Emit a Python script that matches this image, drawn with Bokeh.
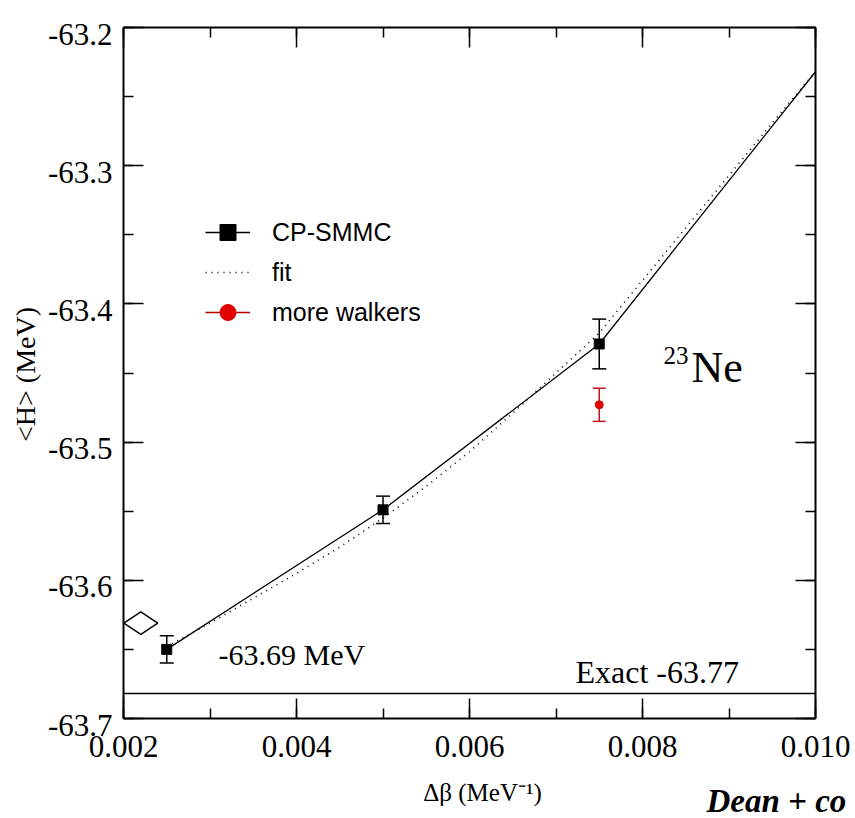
import numpy as np
from bokeh.plotting import figure
from bokeh.models import (Range1d, LinearAxis, SingleIntervalTicker,
                          Whisker, ColumnDataSource, Label, Legend, LegendItem, TeeHead)
from bokeh.embed import file_html
from bokeh.resources import INLINE

# ---- data ----
x_lim = [0.002, 0.010]
y_lim = [-63.7, -63.2]

x_tick_values = [0.002, 0.004, 0.006, 0.008, 0.010]
x_tick_labels = ["0.002", "0.004", "0.006", "0.008", "0.010"]
y_tick_values = [-63.7, -63.6, -63.5, -63.4, -63.3, -63.2]
y_tick_labels = ["-63.7", "-63.6", "-63.5", "-63.4", "-63.3", "-63.2"]

cp_dbeta = [0.0025, 0.005, 0.0075]
cp_energy = [-63.650, -63.549, -63.429]
cp_err = [0.0099, 0.0099, 0.018]

cp_line_dbeta = [0.0025, 0.005, 0.0075, 0.010]
cp_line_energy = [-63.650, -63.549, -63.429, -63.232]

fit_dbeta = [0.0025, 0.003, 0.0035, 0.004, 0.0045, 0.005, 0.0055, 0.006, 0.0065,
             0.007, 0.0075, 0.008, 0.0085, 0.009, 0.0095, 0.010]
fit_energy = [-63.648, -63.631, -63.613, -63.595, -63.576, -63.555, -63.532, -63.507,
              -63.479, -63.450, -63.421, -63.383, -63.345, -63.307, -63.269, -63.232]

walk_dbeta = [0.0075]
walk_energy = [-63.473]
walk_err = [0.012]

extrap_dbeta = [0.0022]
extrap_energy = [-63.631]

exact_dbeta = [0.002, 0.010]
exact_energy = [-63.682, -63.682]

x_ticks_interval = 0.002
y_ticks_interval = 0.1

SERIF = "Liberation Serif"
SANS = "Liberation Sans"
DESC = 0.216  # descent of Liberation Serif (fraction of font size)

# pixel layout of the axes box; the plotting frame covers the whole canvas so that
# tick labels, axis titles and the caption are never clipped
BOX_L, BOX_R, BOX_T, BOX_B = 123, 815, 27, 718
W, H = 855, 818
px_x = (x_lim[1] - x_lim[0]) / (BOX_R - BOX_L)
px_y = (y_lim[1] - y_lim[0]) / (BOX_B - BOX_T)


def data_x(px):
    return x_lim[0] + (px - BOX_L) * px_x


def data_y(py):
    return y_lim[1] - (py - BOX_T) * px_y


p = figure(width=W, height=H,
           x_range=Range1d(data_x(0), data_x(W)), y_range=Range1d(data_y(H), data_y(0)),
           output_backend="svg", toolbar_location=None,
           min_border_left=0, min_border_right=0, min_border_top=0, min_border_bottom=0,
           x_axis_location=None, y_axis_location=None)
p.grid.visible = False
p.outline_line_color = None
p.background_fill_color = "white"
p.border_fill_color = "white"


def make_axis(loc, bounds, interval):
    ax = LinearAxis(fixed_location=loc, bounds=bounds,
                    ticker=SingleIntervalTicker(interval=interval, num_minor_ticks=2))
    ax.axis_line_width = 2
    ax.axis_line_color = "black"
    ax.major_tick_in = 20
    ax.major_tick_out = 0
    ax.minor_tick_in = 10
    ax.minor_tick_out = 0
    ax.major_tick_line_width = 1.5
    ax.minor_tick_line_width = 1.5
    ax.major_tick_line_color = "black"
    ax.minor_tick_line_color = "black"
    ax.major_label_text_font_size = "0px"
    ax.major_label_standoff = 0
    return ax


p.add_layout(make_axis(y_lim[0], (x_lim[0], x_lim[1]), x_ticks_interval), "below")
p.add_layout(make_axis(y_lim[1], (x_lim[0], x_lim[1]), x_ticks_interval), "above")
p.add_layout(make_axis(x_lim[0], (y_lim[0], y_lim[1]), y_ticks_interval), "left")
p.add_layout(make_axis(x_lim[1], (y_lim[0], y_lim[1]), y_ticks_interval), "right")

TICK_SIZE = 31
# x tick labels (baseline 32 px below the axis)
for v, t in zip(x_tick_values, x_tick_labels):
    p.add_layout(Label(x=v, y=data_y(750 + DESC * TICK_SIZE), text=t, text_font=SERIF,
                       text_font_size=f"{TICK_SIZE}px", text_color="black",
                       text_align="center", text_baseline="bottom"))
# y tick labels (digits centred on the tick)
for v, t in zip(y_tick_values, y_tick_labels):
    p.add_layout(Label(x=data_x(112), y=v - (0.338 + DESC) * TICK_SIZE * px_y, text=t,
                       text_font=SERIF, text_font_size=f"{TICK_SIZE}px", text_color="black",
                       text_align="right", text_baseline="bottom"))


def add_text(px, base_py, text, size, style="normal", align="left"):
    p.add_layout(Label(x=data_x(px), y=data_y(base_py + DESC * size), text=text,
                       text_font=SERIF, text_font_size=f"{size}px", text_font_style=style,
                       text_color="black", text_align=align, text_baseline="bottom"))


# axis titles
add_text(482, 800, "Δβ (MeV⁻¹)", 25, align="center")
p.add_layout(Label(x=data_x(25), y=data_y(374), text="<H> (MeV)", text_font=SERIF,
                   text_font_size="28px", text_color="black", text_align="center",
                   text_baseline="middle", angle=np.pi / 2))

# exact line
p.line(exact_dbeta, exact_energy, line_color="black", line_width=1.5)

# fit (dotted)
fit_r = p.line(fit_dbeta, fit_energy, line_color="black", line_width=1.6, line_dash="1 5")

# CP-SMMC line and points
cp_line = p.line(cp_line_dbeta, cp_line_energy, line_color="black", line_width=1.3)
cp_src = ColumnDataSource(dict(x=cp_dbeta, y=cp_energy,
                               lo=[e - d for e, d in zip(cp_energy, cp_err)],
                               hi=[e + d for e, d in zip(cp_energy, cp_err)]))
p.add_layout(Whisker(source=cp_src, base="x", lower="lo", upper="hi", dimension="height",
                     line_color="black", line_width=1.5,
                     lower_head=TeeHead(size=14, line_color="black", line_width=1.5),
                     upper_head=TeeHead(size=14, line_color="black", line_width=1.5)))
cp_pts = p.scatter("x", "y", source=cp_src, marker="square", size=10,
                   fill_color="black", line_color="black")

# more walkers
w_src = ColumnDataSource(dict(x=walk_dbeta, y=walk_energy,
                              lo=[e - d for e, d in zip(walk_energy, walk_err)],
                              hi=[e + d for e, d in zip(walk_energy, walk_err)]))
p.add_layout(Whisker(source=w_src, base="x", lower="lo", upper="hi", dimension="height",
                     line_color="#c8141e", line_width=1.5,
                     lower_head=TeeHead(size=13, line_color="#c8141e", line_width=1.5),
                     upper_head=TeeHead(size=13, line_color="#c8141e", line_width=1.5)))
w_line = p.line("x", "y", source=w_src, line_color="#b40000", line_width=1.5)
w_pts = p.scatter("x", "y", source=w_src, marker="circle", size=8,
                  fill_color="#e00000", line_color="#e00000")

# extrapolated value (diamond)
p.scatter(extrap_dbeta, extrap_energy, marker="diamond", size=34, angle=np.pi / 2,
          fill_color=None, line_color="black", line_width=1.5)

# annotations
add_text(218, 664, "-63.69 MeV", 30)
add_text(575, 683, "Exact -63.77", 32)
add_text(663, 358, "23", 25)
add_text(691, 382, "Ne", 44)
add_text(706, 811, "Dean + co", 33, style="bold italic")

legend = Legend(items=[LegendItem(label="CP-SMMC", renderers=[cp_line, cp_pts]),
                       LegendItem(label="fit", renderers=[fit_r]),
                       LegendItem(label="more walkers", renderers=[w_line, w_pts])],
                location=(205, H - 332), padding=0, margin=0, border_line_color=None,
                background_fill_alpha=0, glyph_width=45, glyph_height=40,
                label_height=40, label_standoff=22, spacing=0,
                label_text_font=SANS, label_text_font_size="25px",
                label_text_color="black")
p.add_layout(legend)

open("out.html", "w").write(file_html(p, INLINE))
